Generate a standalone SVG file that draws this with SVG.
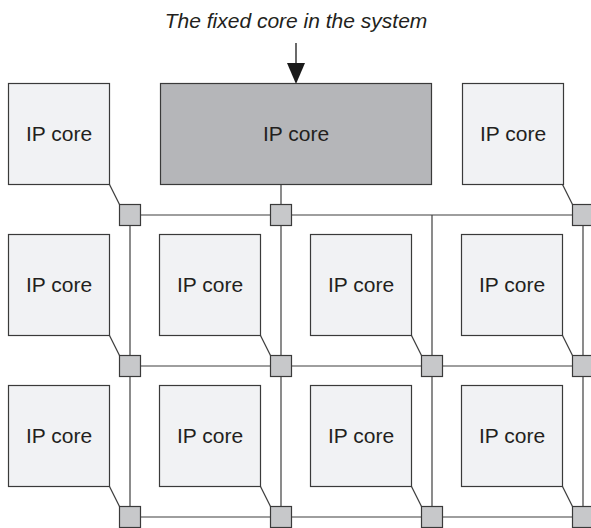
<svg xmlns="http://www.w3.org/2000/svg" width="591" height="528" viewBox="0 0 591 528">
  <style>
    .core { fill: #f1f2f4; stroke: #3a3a3a; stroke-width: 1.2; }
    .fixed { fill: #b5b6b9; stroke: #3a3a3a; stroke-width: 1.2; }
    .router { fill: #c7c8ca; stroke: #3a3a3a; stroke-width: 1.2; }
    .wire { stroke: #3f3f3f; stroke-width: 1.2; fill: none; }
    .label { font-family: "Liberation Sans", Arial, sans-serif; font-size: 21px; fill: #231f20; text-anchor: middle; }
    .caption { font-family: "Liberation Sans", Arial, sans-serif; font-size: 21px; font-style: italic; fill: #231f20; text-anchor: middle; }
  </style>
  <rect width="591" height="528" fill="#ffffff"/>

  <!-- Mesh links and core-to-router links -->
  <g id="connectors">
    <!-- horizontal mesh rows -->
    <line class="wire" x1="130" y1="215" x2="591" y2="215"/>
    <line class="wire" x1="130" y1="366" x2="591" y2="366"/>
    <line class="wire" x1="130" y1="517" x2="591" y2="517"/>
    <!-- vertical mesh columns -->
    <line class="wire" x1="130" y1="215" x2="130" y2="528"/>
    <line class="wire" x1="281" y1="184.5" x2="281" y2="528"/>
    <line class="wire" x1="432" y1="215" x2="432" y2="528"/>
    <line class="wire" x1="583" y1="215" x2="583" y2="528"/>
    <!-- core corner to router -->
    <line class="wire" x1="109.5" y1="184.5" x2="119.5" y2="204.5"/>
    <line class="wire" x1="562.5" y1="184.5" x2="572.5" y2="204.5"/>
    <line class="wire" x1="109.5" y1="335.5" x2="119.5" y2="355.5"/>
    <line class="wire" x1="260.5" y1="335.5" x2="270.5" y2="355.5"/>
    <line class="wire" x1="411.5" y1="335.5" x2="421.5" y2="355.5"/>
    <line class="wire" x1="562.5" y1="335.5" x2="572.5" y2="355.5"/>
    <line class="wire" x1="109.5" y1="486.5" x2="119.5" y2="506.5"/>
    <line class="wire" x1="260.5" y1="486.5" x2="270.5" y2="506.5"/>
    <line class="wire" x1="411.5" y1="486.5" x2="421.5" y2="506.5"/>
    <line class="wire" x1="562.5" y1="486.5" x2="572.5" y2="506.5"/>
  </g>

  <!-- Caption with pointer to the fixed core -->
  <g id="caption">
    <text class="caption" x="296" y="28">The fixed core in the system</text>
    <line x1="296" y1="43" x2="296" y2="64" stroke="#1a1a1a" stroke-width="1.3"/>
    <polygon points="287,63 305,63 296,84" fill="#1a1a1a"/>
  </g>

  <!-- IP cores -->
  <g id="core-r1c1"><rect class="core" x="8.5" y="83.5" width="101" height="101"/><text class="label" x="59" y="141">IP core</text></g>
  <g id="core-fixed"><rect class="fixed" x="160.5" y="83.5" width="271" height="101"/><text class="label" x="296" y="141">IP core</text></g>
  <g id="core-r1c4"><rect class="core" x="462.5" y="83.5" width="101" height="101"/><text class="label" x="513" y="141">IP core</text></g>

  <g id="core-r2c1"><rect class="core" x="8.5" y="234.5" width="101" height="101"/><text class="label" x="59" y="292">IP core</text></g>
  <g id="core-r2c2"><rect class="core" x="159.5" y="234.5" width="101" height="101"/><text class="label" x="210" y="292">IP core</text></g>
  <g id="core-r2c3"><rect class="core" x="310.5" y="234.5" width="101" height="101"/><text class="label" x="361" y="292">IP core</text></g>
  <g id="core-r2c4"><rect class="core" x="461.5" y="234.5" width="101" height="101"/><text class="label" x="512" y="292">IP core</text></g>

  <g id="core-r3c1"><rect class="core" x="8.5" y="385.5" width="101" height="101"/><text class="label" x="59" y="443">IP core</text></g>
  <g id="core-r3c2"><rect class="core" x="159.5" y="385.5" width="101" height="101"/><text class="label" x="210" y="443">IP core</text></g>
  <g id="core-r3c3"><rect class="core" x="310.5" y="385.5" width="101" height="101"/><text class="label" x="361" y="443">IP core</text></g>
  <g id="core-r3c4"><rect class="core" x="461.5" y="385.5" width="101" height="101"/><text class="label" x="512" y="443">IP core</text></g>

  <!-- Routers -->
  <g id="router-r1c1"><rect class="router" x="119.5" y="204.5" width="21" height="21"/></g>
  <g id="router-r1c2"><rect class="router" x="270.5" y="204.5" width="21" height="21"/></g>
  <g id="router-r1c4"><rect class="router" x="572.5" y="204.5" width="21" height="21"/></g>

  <g id="router-r2c1"><rect class="router" x="119.5" y="355.5" width="21" height="21"/></g>
  <g id="router-r2c2"><rect class="router" x="270.5" y="355.5" width="21" height="21"/></g>
  <g id="router-r2c3"><rect class="router" x="421.5" y="355.5" width="21" height="21"/></g>
  <g id="router-r2c4"><rect class="router" x="572.5" y="355.5" width="21" height="21"/></g>

  <g id="router-r3c1"><rect class="router" x="119.5" y="506.5" width="21" height="21"/></g>
  <g id="router-r3c2"><rect class="router" x="270.5" y="506.5" width="21" height="21"/></g>
  <g id="router-r3c3"><rect class="router" x="421.5" y="506.5" width="21" height="21"/></g>
  <g id="router-r3c4"><rect class="router" x="572.5" y="506.5" width="21" height="21"/></g>
</svg>
